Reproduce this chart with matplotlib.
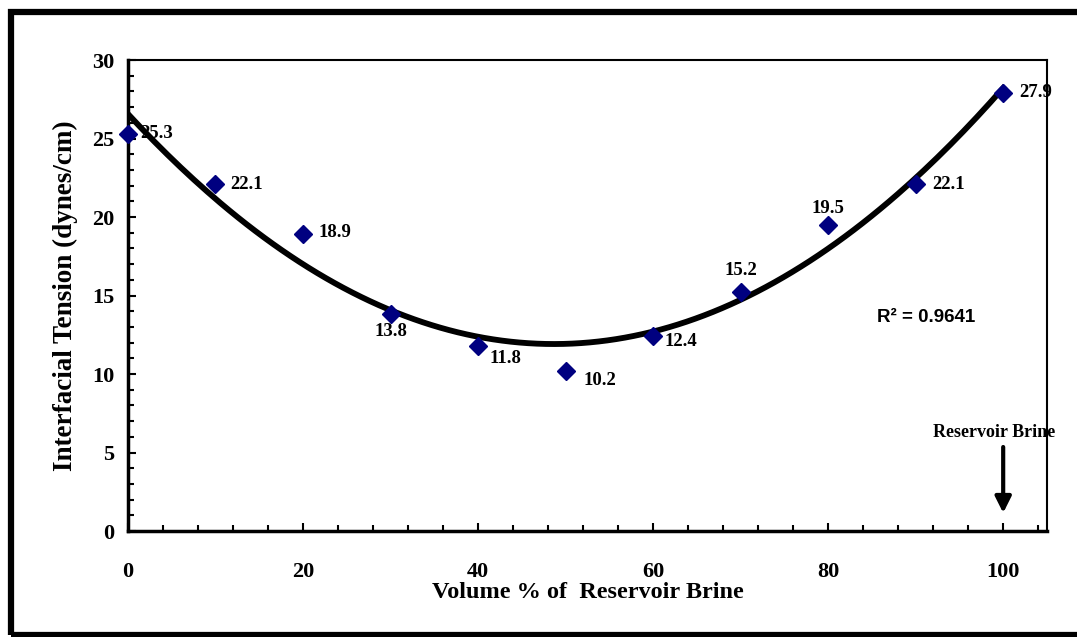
import numpy as np
import matplotlib
matplotlib.use('Agg')
import matplotlib.pyplot as plt
from matplotlib.patches import Rectangle
from matplotlib.ticker import MultipleLocator

# volume % of reservoir brine vs interfacial tension
brine_pct = [0, 10, 20, 30, 40, 50, 60, 70, 80, 90, 100]
ift = [25.3, 22.1, 18.9, 13.8, 11.8, 10.2, 12.4, 15.2, 19.5, 22.1, 27.9]
point_labels = ['25.3', '22.1', '18.9', '13.8', '11.8', '10.2', '12.4', '15.2', '19.5', '22.1', '27.9']
r2_text = 'R\u00b2 = 0.9641'

# where each label sits relative to its point (points) and its alignment
offsets = [(8.5, 0), (11, 0), (11.5, 1), (0, -12), (8.5, -9.5), (13, -7),
           (8, -3.6), (0, 16), (0, 12), (12, 0), (11.5, 0)]
aligns = ['left', 'left', 'left', 'center', 'left', 'left',
          'left', 'center', 'center', 'left', 'left']

serif = ['Liberation Serif', 'DejaVu Serif']

fig = plt.figure(figsize=(10.77, 6.37), dpi=100)
ax = fig.add_axes([0.1188, 0.1664, 0.8533, 0.7394])

# outer frame
fig.patches.append(Rectangle((0.0105, 0.003), 1.0, 0.978, transform=fig.transFigure,
                             fill=False, edgecolor='black', linewidth=4.5))

# 2nd order trendline from the data
coef = np.polyfit(brine_pct, ift, 2)
xs = np.linspace(0, 100, 200)
ax.plot(xs, np.polyval(coef, xs), color='black', linewidth=4.2, zorder=2)

ax.plot(brine_pct, ift, linestyle='none', marker='D', markersize=9,
        color='#000080', zorder=3, clip_on=False)

for x, y, lab, off, ha in zip(brine_pct, ift, point_labels, offsets, aligns):
    ax.annotate(lab, (x, y), xytext=off, textcoords='offset points',
                fontsize=13.5, fontweight='bold', family=serif, ha=ha, va='center')

ax.text(85.6, 13.6, r2_text, fontsize=13.5, fontweight='bold', family='Liberation Sans',
        ha='left', va='center')

ax.text(99.0, 6.3, 'Reservoir Brine', fontsize=13, fontweight='bold', family=serif,
        ha='center', va='center', zorder=1)
ax.annotate('', xy=(100, 1.15), xytext=(100, 5.35),
            arrowprops=dict(arrowstyle='-|>', color='black', lw=3, mutation_scale=24,
                            shrinkA=0, shrinkB=0))

ax.set_xlim(0, 105)
ax.set_ylim(0, 30)
ax.xaxis.set_major_locator(MultipleLocator(20))
ax.xaxis.set_minor_locator(MultipleLocator(4))
ax.yaxis.set_major_locator(MultipleLocator(5))
ax.yaxis.set_minor_locator(MultipleLocator(1))
ax.tick_params(which='both', direction='in', width=1.5, top=False, right=False)
ax.tick_params(which='major', length=6)
ax.tick_params(which='minor', length=4)
ax.tick_params(axis='x', pad=22)
ax.tick_params(axis='y', pad=10)
for lab in ax.get_xticklabels() + ax.get_yticklabels():
    lab.set_family(serif)
    lab.set_fontweight('bold')
    lab.set_fontsize(16)

for sp in ax.spines.values():
    sp.set_linewidth(1.5)
ax.spines['left'].set_linewidth(2.5)
ax.spines['bottom'].set_linewidth(2.5)

ax.set_xlabel('Volume % of  Reservoir Brine', fontsize=17.5, fontweight='bold', family=serif, labelpad=0)
ax.set_ylabel('Interfacial Tension (dynes/cm)', fontsize=19.5, fontweight='bold', family=serif, labelpad=10)

fig.savefig('out.png', dpi=100)
